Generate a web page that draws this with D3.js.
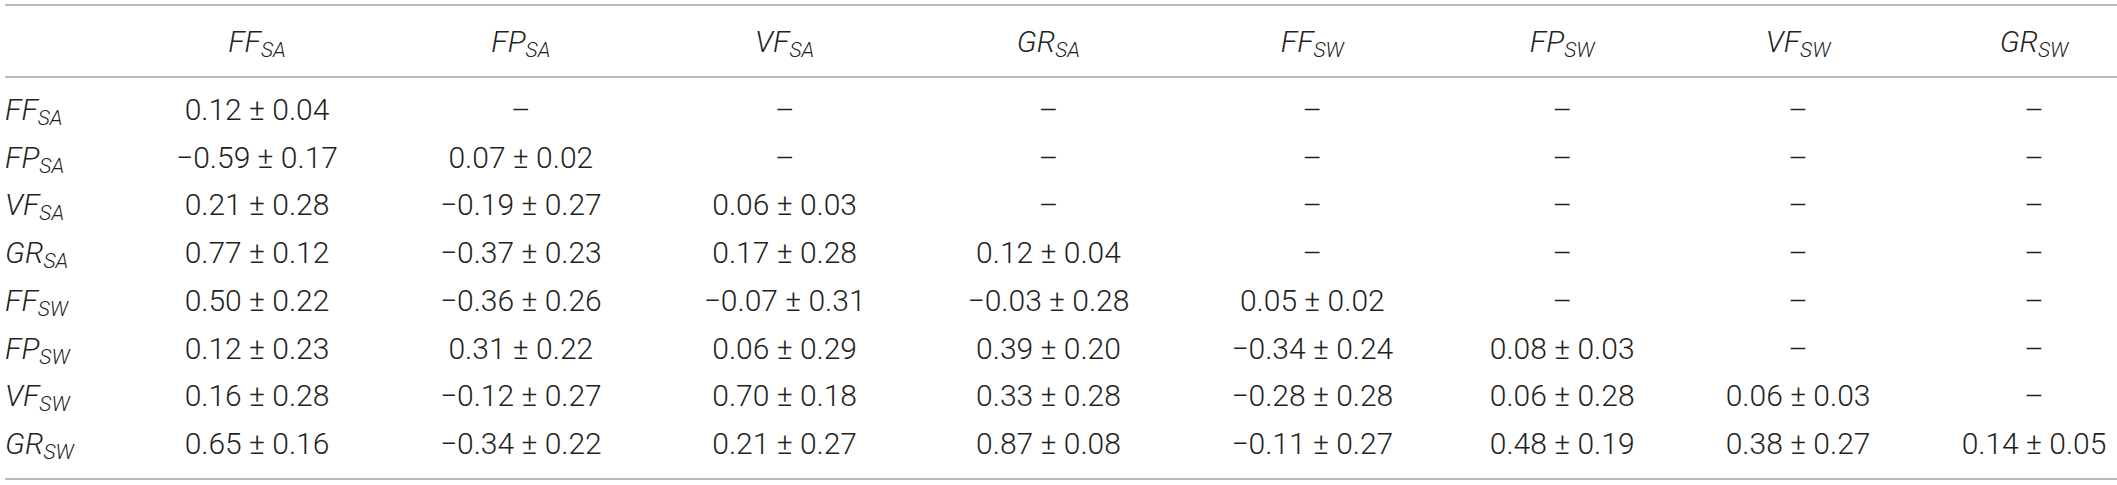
<!DOCTYPE html>
<html>
<head>
<meta charset="utf-8">
<script src="https://cdn.jsdelivr.net/npm/d3@7"></script>
<style>
  html, body { margin: 0; padding: 0; background: #fff; overflow: hidden; }
  svg text { font-family: Roboto, "Helvetica Neue", Arial, sans-serif; font-weight: 300; fill: #231f20; }
</style>
</head>
<body>
<script>
// variables (row and column headers): base letters + subscript
var varNames = ['FF', 'FP', 'VF', 'GR', 'FF', 'FP', 'VF', 'GR']
var varSubs = ['SA', 'SA', 'SA', 'SA', 'SW', 'SW', 'SW', 'SW']

// lower triangle (incl. diagonal), one array per row
var means = [
  [0.12],
  [-0.59, 0.07],
  [0.21, -0.19, 0.06],
  [0.77, -0.37, 0.17, 0.12],
  [0.50, -0.36, -0.07, -0.03, 0.05],
  [0.12, 0.31, 0.06, 0.39, -0.34, 0.08],
  [0.16, -0.12, 0.70, 0.33, -0.28, 0.06, 0.06],
  [0.65, -0.34, 0.21, 0.87, -0.11, 0.48, 0.38, 0.14]
]
var sds = [
  [0.04],
  [0.17, 0.02],
  [0.28, 0.27, 0.03],
  [0.12, 0.23, 0.28, 0.04],
  [0.22, 0.26, 0.31, 0.28, 0.02],
  [0.23, 0.22, 0.29, 0.20, 0.24, 0.03],
  [0.28, 0.27, 0.18, 0.28, 0.28, 0.28, 0.03],
  [0.16, 0.22, 0.27, 0.08, 0.27, 0.19, 0.27, 0.05]
]
var emptyCell = '\u2013'

var W = 2117, H = 485
var fontSize = 30, subSize = 21
var fmt = d3.format('.2f') // uses the unicode minus

var keys = varNames.map((d, i) => d + '_' + varSubs[i])

// cell text, row-major
var cells = []
keys.forEach((r, i) => {
  keys.forEach((c, j) => {
    var txt = j <= i ? fmt(means[i][j]) + ' \u00b1 ' + fmt(sds[i][j]) : emptyCell
    cells.push({row: r, col: c, i: i, j: j, txt: txt})
  })
})

var svg = d3.select('body').append('svg').attr('width', W).attr('height', H)

// rules
var ruleY = [5, 77, 479]
svg.selectAll('line.rule')
  .data(ruleY)
  .enter().append('line')
    .attr('class', 'rule')
    .attr('x1', 5).attr('x2', W)
    .attr('y1', d => d).attr('y2', d => d)
    .attr('stroke', '#a3a3a3')
    .attr('stroke-width', 1.6)

function label(sel, k) {
  sel.append('tspan').attr('font-style', 'italic').text(varNames[k])
  sel.append('tspan').attr('font-style', 'italic')
    .attr('font-size', subSize).attr('dy', 5).text(varSubs[k])
}

// value cells (drawn first so widths can be measured)
var cellText = svg.selectAll('text.cell')
  .data(cells)
  .enter().append('text')
    .attr('class', 'cell')
    .attr('font-size', fontSize)
    .attr('text-anchor', 'middle')
    .text(d => d.txt)

var headText = svg.selectAll('text.head')
  .data(keys)
  .enter().append('text')
    .attr('class', 'head')
    .attr('font-size', fontSize)
    .attr('text-anchor', 'middle')
    .each(function(d, k) { label(d3.select(this), k) })

// column widths = widest content (auto table layout style)
var widths = keys.map(() => 0)
cellText.each(function(d) { widths[d.j] = Math.max(widths[d.j], this.getComputedTextLength()) })
headText.each(function(d, k) { widths[k] = Math.max(widths[k], this.getBBox().width) })
var centers = []
var acc = 0
widths.forEach((w, k) => { centers.push(acc + w / 2); acc += w })

var x = d3.scaleLinear().domain([centers[0], centers[centers.length - 1]]).range([257, 2034])
var colX = d3.scaleOrdinal(keys, centers.map(c => x(c)))
var y = d3.scalePoint(keys, [120, 454])

cellText.attr('x', d => colX(d.col)).attr('y', d => y(d.row))
headText.attr('x', d => colX(d)).attr('y', 52)

// row labels
svg.selectAll('text.rowlab')
  .data(keys)
  .enter().append('text')
    .attr('class', 'rowlab')
    .attr('font-size', fontSize)
    .attr('x', 5)
    .attr('y', d => y(d))
    .each(function(d, k) { label(d3.select(this), k) })
</script>
</body>
</html>
